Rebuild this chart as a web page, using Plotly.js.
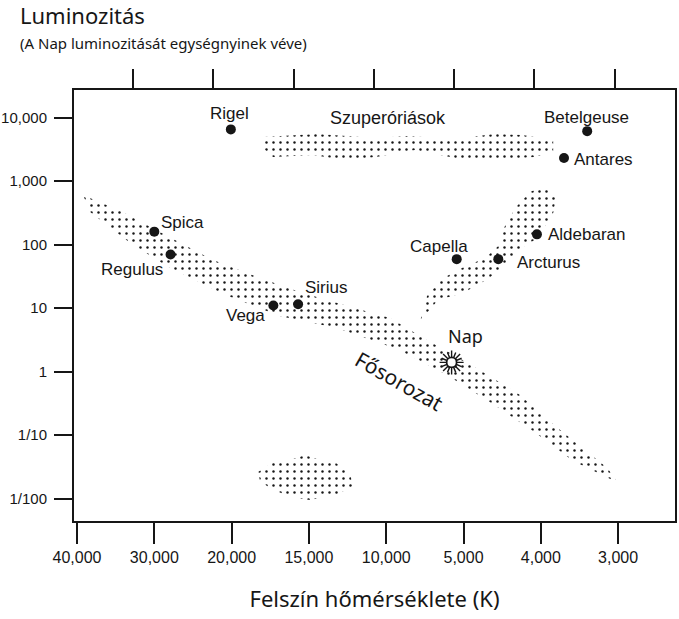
<!DOCTYPE html>
<html>
<head>
<meta charset="utf-8">
<script src="https://cdn.plot.ly/plotly-3.0.1.min.js"></script>
<style>
  html, body { margin: 0; padding: 0; background: #ffffff; }
  #chart { width: 679px; height: 619px; }
</style>
</head>
<body>
<div id="chart"></div>
<script>
// ---------- axis ticks ----------
const tempTicks = [40000, 30000, 20000, 15000, 10000, 5000, 4000, 3000];
const tempTickLabels = ['40,000', '30,000', '20,000', '15,000', '10,000', '5,000', '4,000', '3,000'];
const lumTicks = [10000, 1000, 100, 10, 1, 0.1, 0.01];
const lumTickLabels = ['10,000', '1,000', '100', '10', '1', '1/10', '1/100'];

// ---------- named stars (temperature K, luminosity in Sun units) ----------
const starNames = ['Rigel', 'Betelgeuse', 'Antares', 'Spica', 'Regulus', 'Vega', 'Sirius', 'Capella', 'Arcturus', 'Aldebaran'];
const starTemp  = [20100, 3400, 3700, 30000, 27900, 17300, 15700, 5440, 4550, 4050];
const starLum   = [6500, 6100, 2300, 160, 70, 11, 11.5, 59, 59, 145];

const sunName = 'Nap';
const sunTemp = [5770];
const sunLum  = [1.4];

// ---------- star regions (outline of the dotted bands) ----------
const msTemp = [39200, 34400, 29300, 22400, 18200, 15600, 12500, 9750, 7600, 4920, 4270, 3750, 3140, 3010,
                3100, 3580, 4100, 4620, 6070, 9300, 13200, 16900, 21100, 28400, 33100, 38300];
const msLum  = [600, 340, 158, 57, 30, 18, 10.8, 7.0, 3.4, 1.32, 0.43, 0.121, 0.0305, 0.0184,
                0.0205, 0.0393, 0.1165, 0.31, 0.887, 2.27, 4.87, 7.52, 16.7, 46, 106, 326];

const giantTemp = [3950, 3800, 3840, 4040, 4270, 4460, 4680, 5030, 6650, 7800, 7360, 6390, 5100, 4720, 4550, 4460, 4320, 4140];
const giantLum  = [840, 560, 314, 127, 85, 48, 29, 17.3, 13.4, 6.3, 15.5, 29, 43, 61.5, 95, 203, 390, 670];

const superTemp = [17970, 14480, 10660, 8650, 5550, 4605, 4240, 3840, 3840, 4090, 4605, 5290, 8140, 10660, 12730, 14730, 17320, 17840];
const superLum  = [4930, 5500, 4760, 5120, 4600, 5500, 5310, 4430, 2870, 2390, 2140, 2250, 3080, 2390, 2140, 2570, 2390, 3080];

const wdTemp = [18290, 17390, 16030, 15250, 14280, 13250, 12340, 12150, 13120, 14930, 16220, 17520, 18160];
const wdLum  = [0.0264, 0.0365, 0.0422, 0.0488, 0.0407, 0.0365, 0.0245, 0.0159, 0.0119, 0.00956, 0.0107, 0.0148, 0.019];

const regionLabels = ['Szuperóriások', 'Fősorozat'];

// ---------- the diagram's own (schematic) temperature scale ----------
function tempToPos(T) {
  for (let i = 0; i < tempTicks.length - 1; i++) {
    const hi = tempTicks[i], lo = tempTicks[i + 1];
    if (T <= hi && T >= lo) return i + (hi - T) / (hi - lo);
  }
  if (T > tempTicks[0]) return (tempTicks[0] - T) / (tempTicks[0] - tempTicks[1]);
  const n = tempTicks.length;
  return (n - 1) + (tempTicks[n - 1] - T) / (tempTicks[n - 2] - tempTicks[n - 1]);
}
const pos = arr => arr.map(tempToPos);
const closeRing = arr => arr.concat([arr[0]]);

const INK = '#161616';
const LABEL_FONT = 'Liberation Sans, Arial, Helvetica, sans-serif';
const HUMANIST = 'Noto Sans, Open Sans, DejaVu Sans, sans-serif';

const dotPattern = { shape: '.', size: 7, solidity: 0.1, fgcolor: INK, bgcolor: 'rgba(0,0,0,0)' };
function band(t, l) {
  return {
    type: 'scatter', mode: 'lines',
    x: closeRing(pos(t)), y: closeRing(l),
    fill: 'toself', fillcolor: 'rgba(0,0,0,0)', fillpattern: dotPattern,
    line: { width: 0, color: 'rgba(0,0,0,0)' },
    hoverinfo: 'skip', showlegend: false
  };
}

const traces = [
  band(msTemp, msLum),
  band(giantTemp, giantLum),
  band(superTemp, superLum),
  band(wdTemp, wdLum),
  {
    type: 'scatter', mode: 'markers', x: pos(starTemp), y: starLum, text: starNames,
    marker: { symbol: 'circle', size: 10, color: INK },
    hoverinfo: 'text', showlegend: false
  },
  {
    type: 'scatter', mode: 'markers', x: pos(sunTemp), y: sunLum, text: [sunName],
    marker: { symbol: 'asterisk-open', size: 20, color: INK, line: { width: 1.4, color: INK } },
    hoverinfo: 'text', showlegend: false
  },
  {
    type: 'scatter', mode: 'markers', x: pos(sunTemp), y: sunLum,
    marker: { symbol: 'asterisk-open', size: 18, angle: 22.5, color: INK, line: { width: 1.4, color: INK } },
    hoverinfo: 'skip', showlegend: false
  },
  {
    type: 'scatter', mode: 'markers', x: pos(sunTemp), y: sunLum,
    marker: { symbol: 'circle', size: 10, color: '#ffffff', line: { width: 1.8, color: INK } },
    hoverinfo: 'skip', showlegend: false
  },
  { type: 'scatter', mode: 'markers', x: [], y: [], xaxis: 'x2', yaxis: 'y', hoverinfo: 'skip', showlegend: false }
];

// label placement for each star (anchor + pixel shift from the dot)
const starLabelStyle = {
  'Rigel':      { xanchor: 'center', xshift: -1,  yshift: 16 },
  'Betelgeuse': { xanchor: 'center', xshift: -1,  yshift: 14 },
  'Antares':    { xanchor: 'left',   xshift: 8,   yshift: -1 },
  'Spica':      { xanchor: 'left',   xshift: 5,   yshift: 9 },
  'Regulus':    { xanchor: 'right',  xshift: -6,  yshift: -15 },
  'Vega':       { xanchor: 'right',  xshift: -6,  yshift: -10 },
  'Sirius':     { xanchor: 'left',   xshift: 5,   yshift: 17 },
  'Capella':    { xanchor: 'center', xshift: -18, yshift: 13 },
  'Arcturus':   { xanchor: 'left',   xshift: 17,  yshift: -3 },
  'Aldebaran':  { xanchor: 'left',   xshift: 9,   yshift: 0 }
};

const annotations = starNames.map((name, i) => Object.assign({
  x: tempToPos(starTemp[i]), y: Math.log10(starLum[i]), xref: 'x', yref: 'y',
  text: name, showarrow: false, yanchor: 'middle',
  font: { family: LABEL_FONT, size: 17, color: INK }
}, starLabelStyle[name]));

annotations.push({
  x: tempToPos(sunTemp[0]), y: Math.log10(sunLum[0]), xref: 'x', yref: 'y',
  text: sunName, showarrow: false, xanchor: 'center', yanchor: 'middle', xshift: 14, yshift: 26,
  font: { family: HUMANIST, size: 18, color: INK }
});
annotations.push({
  x: 0.522, y: 0.934, xref: 'paper', yref: 'paper', text: regionLabels[0], showarrow: false,
  xanchor: 'center', yanchor: 'middle', font: { family: LABEL_FONT, size: 18, color: INK }
});
annotations.push({
  x: 0.5408, y: 0.3248, xref: 'paper', yref: 'paper', text: regionLabels[1], showarrow: false,
  xanchor: 'center', yanchor: 'middle', textangle: 29.6, font: { family: HUMANIST, size: 21, color: INK }
});
annotations.push({
  x: -0.0932, y: 1.109, xref: 'paper', yref: 'paper', text: '(A Nap luminozitását egységnyinek véve)',
  showarrow: false, xanchor: 'left', yanchor: 'middle', font: { family: HUMANIST, size: 15, color: INK }
});

const layout = {
  width: 679, height: 619,
  margin: { l: 74, r: 4, t: 90, b: 98, pad: 0 },
  paper_bgcolor: '#ffffff', plot_bgcolor: '#ffffff',
  showlegend: false,
  font: { family: LABEL_FONT, size: 15, color: INK },
  title: {
    text: 'Luminozitás', font: { family: HUMANIST, size: 22, color: INK },
    xref: 'container', x: 20 / 679, xanchor: 'left',
    yref: 'container', y: 1 - 16 / 619, yanchor: 'middle'
  },
  xaxis: {
    range: [-0.039, 7.736],
    tickmode: 'array', tickvals: tempTicks.map((t, i) => i), ticktext: tempTickLabels,
    ticks: 'outside', ticklen: 21, tickwidth: 2, tickcolor: INK,
    ticklabelstandoff: 0,
    tickfont: { family: LABEL_FONT, size: 16, color: INK },
    showline: true, linewidth: 2, linecolor: INK, mirror: true,
    showgrid: false, zeroline: false, fixedrange: true,
    title: { text: 'Felszín hőmérséklete (K)', font: { family: HUMANIST, size: 22, color: INK }, standoff: 26 }
  },
  xaxis2: {
    overlaying: 'x', side: 'top', anchor: 'y',
    range: [-0.735, 6.750],
    tickmode: 'array', tickvals: [0, 1, 2, 3, 4, 5, 6],
    ticks: 'outside', ticklen: 20, tickwidth: 2, tickcolor: INK,
    showticklabels: false, showline: false, showgrid: false, zeroline: false, fixedrange: true
  },
  yaxis: {
    type: 'log', range: [-2.350, 4.433],
    tickmode: 'array', tickvals: lumTicks, ticktext: lumTickLabels,
    ticks: 'outside', ticklen: 18, tickwidth: 2, tickcolor: INK,
    ticklabelstandoff: 4,
    tickfont: { family: LABEL_FONT, size: 15, color: INK },
    showline: true, linewidth: 2, linecolor: INK, mirror: true,
    showgrid: false, zeroline: false, fixedrange: true
  },
  annotations: annotations
};

Plotly.newPlot('chart', traces, layout, { displayModeBar: false, staticPlot: true });
</script>
</body>
</html>
